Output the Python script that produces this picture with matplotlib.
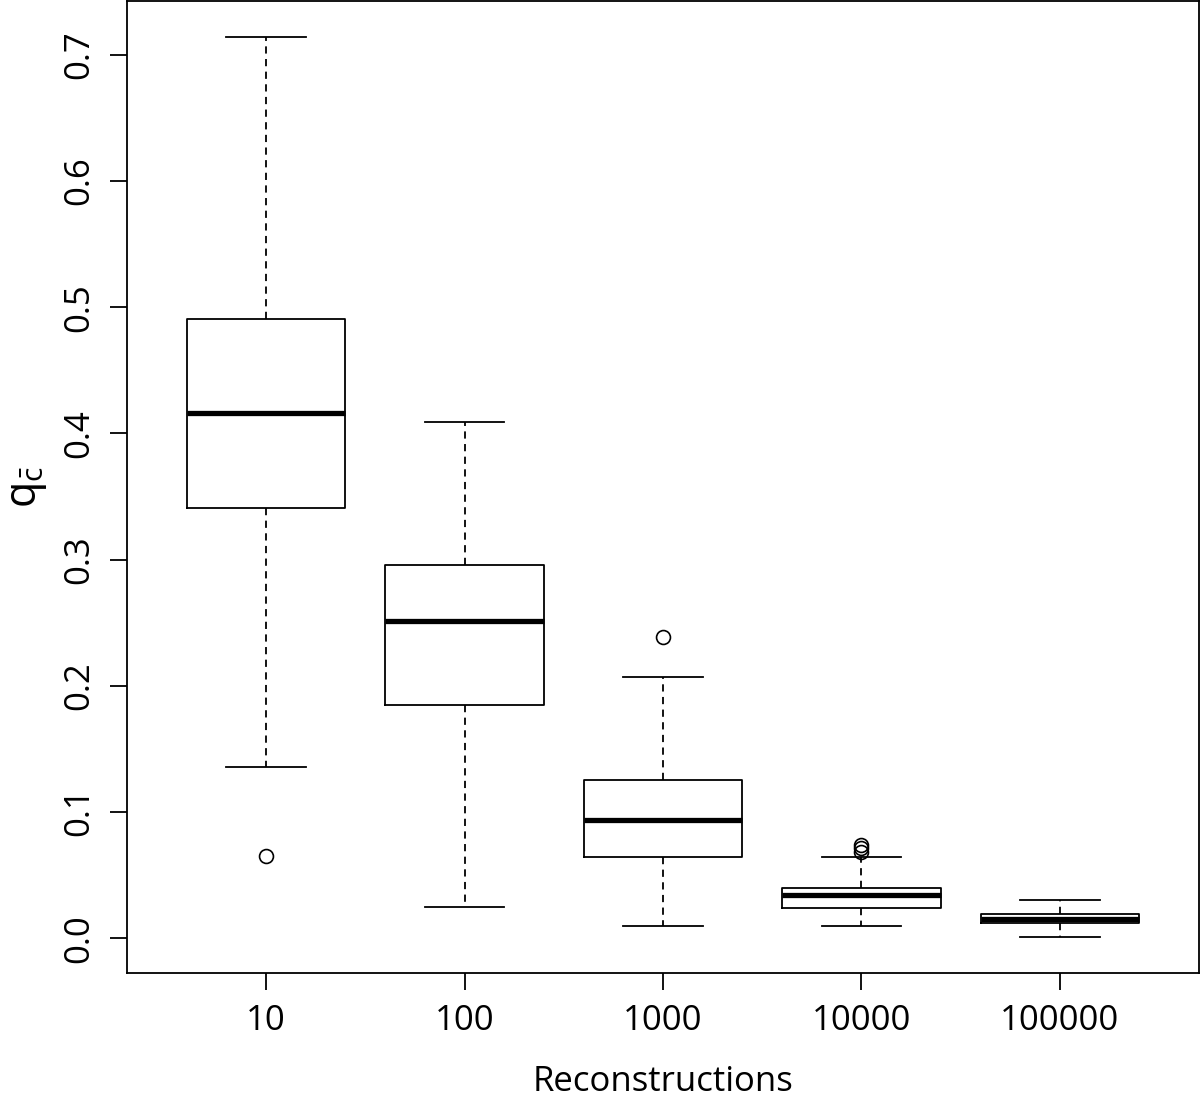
import matplotlib.pyplot as plt

plt.rcParams['font.family'] = ['Open Sans', 'DejaVu Sans']
plt.rcParams['mathtext.fontset'] = 'custom'
plt.rcParams['mathtext.rm'] = 'Open Sans'
plt.rcParams['mathtext.it'] = 'Open Sans'

# box statistics
labels = ['10', '100', '1000', '10000', '100000']
whislo = [0.136, 0.0246, 0.0095, 0.0095, 0.001]
q1 = [0.341, 0.185, 0.064, 0.024, 0.012]
med = [0.416, 0.251, 0.094, 0.034, 0.015]
q3 = [0.491, 0.296, 0.125, 0.040, 0.019]
whishi = [0.714, 0.409, 0.207, 0.064, 0.0304]
fliers = [[0.065], [], [0.239], [0.0742, 0.0715, 0.0686], []]

stats = []
for i in range(len(labels)):
    stats.append(dict(label=labels[i], whislo=whislo[i], q1=q1[i], med=med[i],
                      q3=q3[i], whishi=whishi[i], fliers=fliers[i]))

fig = plt.figure(figsize=(12, 11), dpi=100)
ax = fig.add_axes([0.106, 0.1155, 0.893, 0.8835])

lw = 1.3
ax.bxp(stats, positions=range(1, 6), widths=0.8, capwidths=0.4,
       boxprops=dict(color='black', linewidth=lw),
       medianprops=dict(color='black', linewidth=3.8, solid_capstyle='butt'),
       whiskerprops=dict(color='black', linewidth=lw, linestyle=(0, (4, 3))),
       capprops=dict(color='black', linewidth=lw),
       flierprops=dict(marker='o', markerfacecolor='none', markeredgecolor='black',
                       markersize=10, markeredgewidth=1.2))

ax.set_xlim(0.3, 5.7)
ax.set_ylim(-0.0275, 0.7425)
ax.set_yticks([0.0, 0.1, 0.2, 0.3, 0.4, 0.5, 0.6, 0.7])
ax.set_yticklabels(['0.0', '0.1', '0.2', '0.3', '0.4', '0.5', '0.6', '0.7'],
                   rotation=90, va='center')
ax.tick_params(axis='both', direction='out', length=12, width=lw,
               labelsize=25, pad=10)
for s in ax.spines.values():
    s.set_linewidth(lw)

ax.set_xlabel('Reconstructions', fontsize=25, labelpad=20)
ax.set_ylabel(r'$\mathregular{q_{\bar{c}}}$', fontsize=31, labelpad=10)

fig.savefig('out.png', dpi=100)
